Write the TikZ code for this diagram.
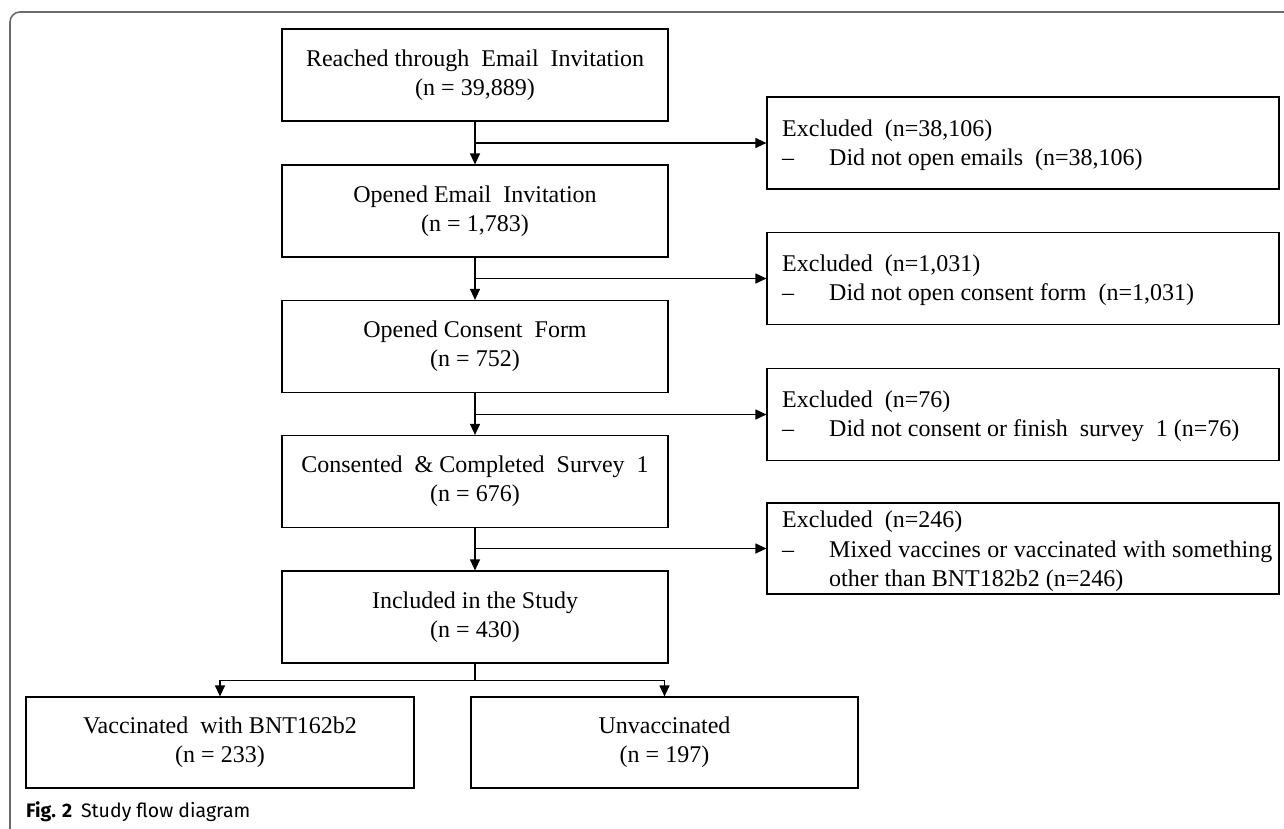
\documentclass[tikz,border=0pt]{standalone}
\usepackage{fontspec}
\setmainfont{Liberation Serif}
\newfontfamily\capfont{Fira Sans}
\usetikzlibrary{arrows.meta,calc}
\begin{document}
\begin{tikzpicture}[x=1pt,y=-1pt,
  mainbox/.style={draw=black,line width=1.2pt,minimum width=386pt,minimum height=92pt,
    inner sep=0pt,align=center,font=\fontsize{24}{29}\selectfont},
  exbox/.style={draw=black,line width=1.2pt,minimum width=512pt,minimum height=92pt,inner sep=0pt},
  extext/.style={anchor=base west,inner sep=0pt,font=\fontsize{24}{29}\selectfont},
  conn/.style={line width=1.2pt,draw=black},
  arr/.style={conn,-{Triangle[length=11pt,width=10pt]}},
  frame/.style={draw=black!58,line width=1.6pt,rounded corners=10pt}
]
\useasboundingbox (0,0) rectangle (1284,828);
\draw[frame] (10,840) -- (10,12) -- (1290,12);

% main column
\node[mainbox] (reached)  at (475,75)    {Reached through\ \ Email\ \ Invitation\\(n = 39,889)};
\node[mainbox] (opened)   at (475,211)   {Opened Email\ \ Invitation\\(n = 1,783)};
\node[mainbox] (consent)  at (475,346.5) {Opened Consent\ \ Form\\(n = 752)};
\node[mainbox] (survey)   at (475,481.5) {Consented\ \ \& Completed\ \ Survey\ \ 1\\(n = 676)};
\node[mainbox] (included) at (475,617)   {Included in the Study\\(n = 430)};
\node[mainbox,minimum width=388pt,minimum height=91pt] (vacc)  at (220,742.5)   {Vaccinated\ \ with BNT162b2\\(n = 233)};
\node[mainbox,minimum width=387pt,minimum height=91pt] (unvac) at (664.5,742.5) {Unvaccinated\\(n = 197)};

% exclusion boxes
\node[exbox] (ex1) at (1023,143)   {};
\node[exbox] (ex2) at (1023,278.5) {};
\node[exbox] (ex3) at (1023,414.5) {};
\node[exbox,minimum height=91pt] (ex4) at (1023,548.5) {};

\node[extext] (ex1a) at (782,136) {Excluded\ \ (n=38,106)};
\node[extext] (ex1d) at (782,165) {–};
\node[extext] (ex1b) at (829,165) {Did not open emails\ \ (n=38,106)};

\node[extext] (ex2a) at (782,271.5) {Excluded\ \ (n=1,031)};
\node[extext] (ex2d) at (782,300.5) {–};
\node[extext] (ex2b) at (829,300.5) {Did not open consent form\ \ (n=1,031)};

\node[extext] (ex3a) at (782,407.5) {Excluded\ \ (n=76)};
\node[extext] (ex3d) at (782,436.5) {–};
\node[extext] (ex3b) at (829,436.5) {Did not consent\ or finish\ \ survey\ \ 1 (n=76)};

\node[extext] (ex4a) at (782,527) {Excluded\ \ (n=246)};
\node[extext] (ex4d) at (782,557) {–};
\node[extext] (ex4b) at (829,557) {\makebox[443pt][s]{Mixed vaccines or vaccinated with something}};
\node[extext] (ex4c) at (829,586) {other than BNT182b2 (n=246)};

% connectors
\draw[arr] (reached) -- (opened);
\draw[arr] (opened) -- (consent);
\draw[arr] (consent) -- (survey);
\draw[arr] (survey) -- (included);
\draw[arr] (reached.south |- ex1.west) -- (ex1.west);
\draw[arr] (opened.south |- ex2.west) -- (ex2.west);
\draw[arr] (consent.south |- ex3.west) -- (ex3.west);
\draw[arr] (survey.south |- ex4.west) -- (ex4.west);

\coordinate (split) at ($(included.south)+(0,17)$);
\draw[conn] (included.south) -- (split);
\draw[arr] (split) -| (vacc.north);
\draw[arr] (split) -| (unvac.north);

% caption
\node[anchor=base west,inner sep=0pt,font=\capfont\fontsize{19.5}{22}\selectfont] (cap) at (26,817)
  {\textbf{Fig. 2}\hspace{0.45em}Study flow diagram};
\end{tikzpicture}
\end{document}
